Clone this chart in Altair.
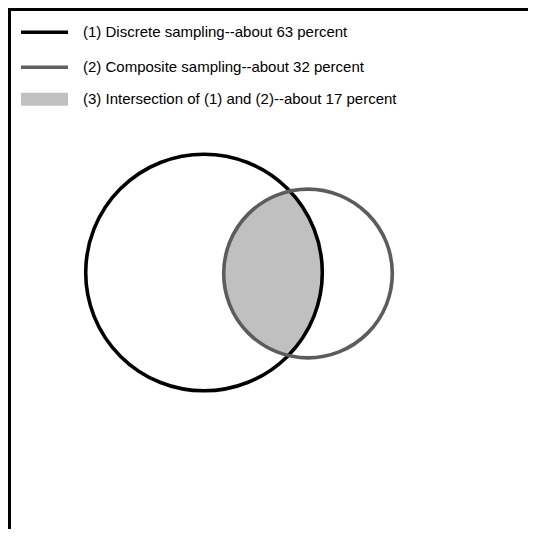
import altair as alt
import pandas as pd
import numpy as np

# Canvas (svg) size; the page adds an 8px margin
W, H = 520, 521

# Legend entries
legend_labels = [
    "(1) Discrete sampling--about 63 percent",
    "(2) Composite sampling--about 32 percent",
    "(3) Intersection of (1) and (2)--about 17 percent",
]
legend_y = [24.3, 59.3, 91.3]
legend_kind = ["line", "line", "box"]
legend_colors = ["#000000", "#5f5f5f", "#c0c0c0"]

# Venn circles (centre x, centre y, radius) in canvas units
circle_names = ["Discrete sampling", "Composite sampling"]
circle_cx = [196.0, 300.0]
circle_cy = [264.5, 265.5]
circle_r = [118.3, 84.3]
circle_colors = ["#000000", "#5c5c5c"]

xs = alt.Scale(domain=[0, W], nice=False, zero=False)
ys = alt.Scale(domain=[0, H], nice=False, zero=False, reverse=True)

# Frame
frame = pd.DataFrame({"x": [0, 0], "x2": [W, 0], "y": [0, 0], "y2": [0, H]})
frame_layer = alt.Chart(frame).mark_rule(color="#000000", strokeWidth=6).encode(
    x=alt.X("x:Q", scale=xs, axis=None),
    x2="x2:Q",
    y=alt.Y("y:Q", scale=ys, axis=None),
    y2="y2:Q",
)

# Legend
leg = pd.DataFrame({"label": legend_labels, "y": legend_y, "kind": legend_kind,
                    "color": legend_colors, "x0": 13, "x1": 60, "xt": 75})
leg_lines = alt.Chart(leg).transform_filter("datum.kind == 'line'").mark_rule(strokeWidth=3.6).encode(
    x=alt.X("x0:Q", scale=xs, axis=None), x2="x1:Q",
    y=alt.Y("y:Q", scale=ys, axis=None),
    color=alt.Color("color:N", scale=None),
)
leg_box = alt.Chart(leg).transform_filter("datum.kind == 'box'").transform_calculate(
    ya="datum.y - 6.5", yb="datum.y + 6.5"
).mark_rect().encode(
    x=alt.X("x0:Q", scale=xs, axis=None), x2="x1:Q",
    y=alt.Y("ya:Q", scale=ys, axis=None), y2="yb:Q",
    color=alt.Color("color:N", scale=None),
)
leg_text = alt.Chart(leg).mark_text(align="left", baseline="middle", font="Liberation Sans",
                                    fontSize=15, color="#000000").encode(
    x=alt.X("xt:Q", scale=xs, axis=None),
    y=alt.Y("y:Q", scale=ys, axis=None),
    text="label:N",
)

# Intersection lens, derived from the two circles
c1x, c2x = circle_cx
c1y, c2y = circle_cy
r1, r2 = circle_r
lx = np.linspace(c2x - r2, c1x + r1, 400)
h1 = np.sqrt(np.clip(r1**2 - (lx - c1x) ** 2, 0, None))
h2 = np.sqrt(np.clip(r2**2 - (lx - c2x) ** 2, 0, None))
top = np.maximum(c1y - h1, c2y - h2)
bot = np.minimum(c1y + h1, c2y + h2)
lens = pd.DataFrame({"x": lx, "top": top, "bot": bot})
lens_layer = alt.Chart(lens).mark_area(color="#c0c0c0", interpolate="monotone").encode(
    x=alt.X("x:Q", scale=xs, axis=None),
    y=alt.Y("top:Q", scale=ys, axis=None),
    y2="bot:Q",
)

circ = pd.DataFrame({"name": circle_names, "cx": circle_cx, "cy": circle_cy,
                     "r": circle_r, "color": circle_colors})
circ_layer = alt.Chart(circ).transform_calculate(
    size="pow(2 * datum.r, 2)"
).mark_point(shape="circle", filled=False, strokeWidth=3.6, opacity=1).encode(
    x=alt.X("cx:Q", scale=xs, axis=None),
    y=alt.Y("cy:Q", scale=ys, axis=None),
    size=alt.Size("size:Q", scale=None),
    color=alt.Color("color:N", scale=None),
)

chart = alt.layer(frame_layer, lens_layer, circ_layer, leg_lines, leg_box, leg_text).properties(
    width=W, height=H, padding=0, autosize=alt.AutoSizeParams(type="none"),
    background="#ffffff",
).configure_view(stroke=None)

chart.save("out.html", embed_options={"renderer": "svg", "actions": False})
